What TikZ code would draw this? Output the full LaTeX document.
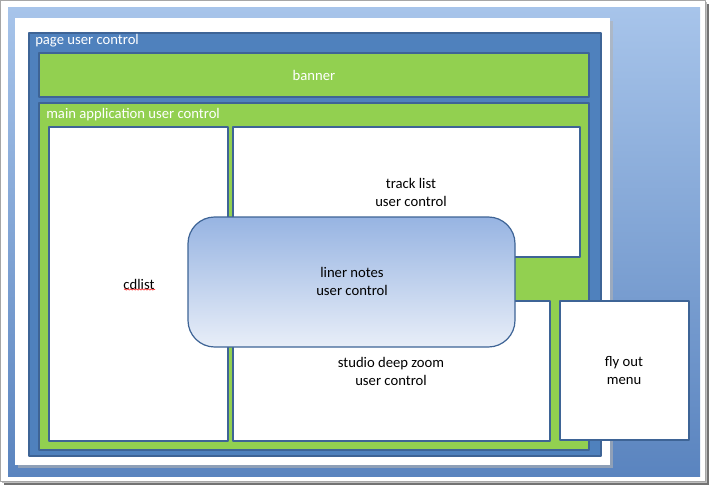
\documentclass[tikz,border=0pt]{standalone}
\usepackage{fontspec}
\setmainfont{Carlito}
\usetikzlibrary{decorations.pathmorphing}

\definecolor{pageblue}{HTML}{4F81BD}
\definecolor{lineblue}{HTML}{3E6496}
\definecolor{boxgreen}{HTML}{92D050}
\definecolor{bgtop}{HTML}{A7C4EA}
\definecolor{bgbottom}{HTML}{5A84BF}
\definecolor{notetop}{HTML}{97B4E2}
\definecolor{notebottom}{HTML}{E8EEF8}

\begin{document}
\begin{tikzpicture}[x=0.75pt,y=-0.75pt,line join=round,
		font=\fontsize{11}{13.5}\selectfont,
		bluebox/.style={fill=pageblue,draw=lineblue,line width=0.9pt},
		greenbox/.style={fill=boxgreen,draw=lineblue,line width=0.9pt},
		whitebox/.style={fill=white,draw=lineblue,line width=0.9pt},
		notebox/.style={top color=notetop,bottom color=notebottom,
			draw=lineblue,line width=0.9pt,rounded corners=20pt},
		label/.style={align=center,text=black},
		caption/.style={anchor=west,text=white,inner sep=0pt}]
	
	\useasboundingbox (0,0) rectangle (712,488);
	
	% ---- outer frame with its drop shadow ----
	\fill[black!55] (4,4) rectangle (709,485);
	\fill[black!25] (2,2) rectangle (707,483);
	\draw[fill=white,draw=black!35,line width=0.6pt] (0.5,0.5) rectangle (705,481);
	
	% ---- blue gradient background ----
	\fill[top color=bgtop,bottom color=bgbottom] (8,8) rectangle (700,476);
	
	% ---- white page (shadow first) ----
	\fill[black!30,opacity=0.6] (18,21) rectangle (613,468);
	\fill[white] (15,18) rectangle (610,465);
	
	% ---- page user control ----
	\draw[bluebox] (29,33) rectangle (601,456);
	\node[caption] (page) at (35,41) {page user control};
	
	% ---- banner ----
	\draw[greenbox] (39,53) rectangle (589,97);
	\node[text=white] (banner) at (314,75) {banner};
	
	% ---- main application user control ----
	\draw[greenbox] (39,103) rectangle (589,450);
	\node[caption] (main) at (46,115) {main application user control};
	
	% ---- inner controls ----
	\draw[whitebox] (49,127) rectangle (228,441);
	\node[label] (cdlist) at (139,284) {cdlist};
	\draw[red!80,line width=0.5pt,decorate,
	decoration={snake,amplitude=0.5pt,segment length=2.2pt}]
	(124,289.5) -- (155,289.5);
	
	\draw[whitebox] (233,127) rectangle (580,257);
	\node[label] (track) at (411,192) {track list\\user control};
	
	\draw[whitebox] (233,301) rectangle (550,441);
	\node[label] (studio) at (391,371) {studio deep zoom\\user control};
	
	% ---- fly out menu (outside the page) ----
	\draw[whitebox] (560,301) rectangle (689,440);
	\node[label] (flyout) at (624,371) {fly out\\menu};
	
	% ---- liner notes, floating on top ----
	\draw[notebox] (188,217) rectangle (515,347);
	\node[label] (liner) at (352,281) {liner notes\\user control};
	
\end{tikzpicture}
\end{document}
